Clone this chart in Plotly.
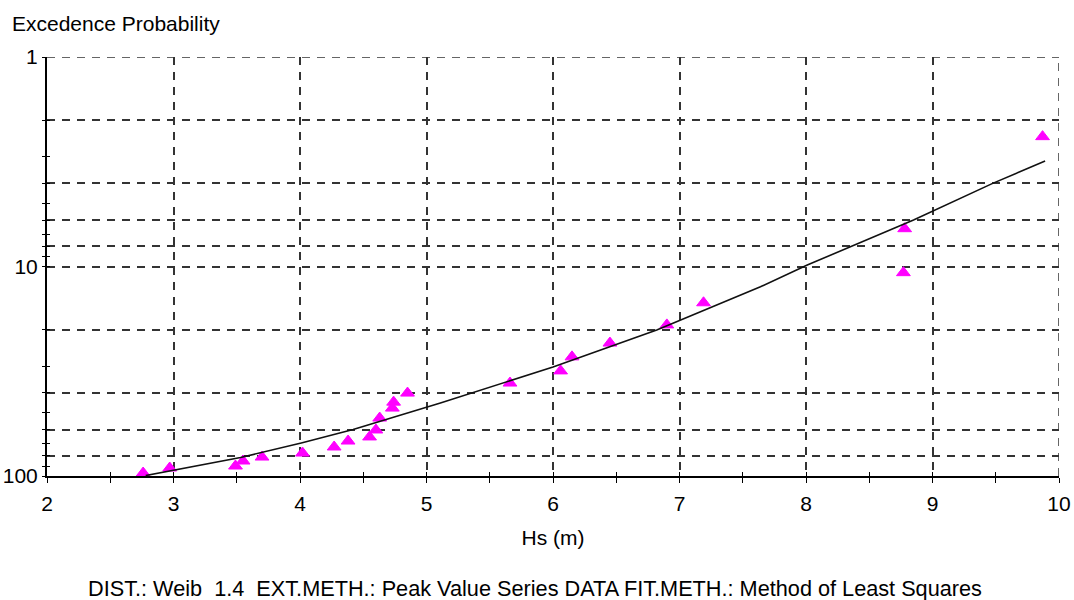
import plotly.graph_objects as go

# Observed data (Hs in m, exceedance value)
hs_obs = [2.76, 2.97, 3.49, 3.55, 3.70, 4.02, 4.27, 4.38, 4.55, 4.60, 4.63,
          4.73, 4.74, 4.85, 5.66, 6.06, 6.15, 6.45, 6.90, 7.19, 8.77, 8.78, 9.87]
p_obs = [96.8, 91.6, 89.6, 84.8, 81.2, 77.7, 72.7, 68.1, 65.1, 60.3, 52.9,
         47.4, 44.4, 40.2, 36.0, 31.5, 27.0, 23.2, 19.0, 14.9, 10.7, 6.6, 2.4]

# Fitted Weibull curve
hs_fit = [2.78, 3.53, 4.01, 4.42, 5.11, 6.00, 6.82, 7.64, 8.01, 8.85, 9.48, 9.89]
p_fit = [99.5, 81.6, 69.6, 60.0, 44.8, 30.2, 20.1, 12.5, 9.84, 6.0, 4.0, 3.14]

# Axis ticks
x_ticks = [2, 3, 4, 5, 6, 7, 8, 9, 10]
x_minor = [2.5, 3.5, 4.5, 5.5, 6.5, 7.5, 8.5, 9.5]
y_grid = [1, 2, 4, 6, 8, 10, 20, 40, 60, 80, 100]
y_grid_text = ["1", "", "", "", "", "10", "", "", "", "", "100"]
y_minor = [3, 5, 7, 9, 30, 50, 70, 90]
y_all = [1, 2, 3, 4, 5, 6, 7, 8, 9, 10, 20, 30, 40, 50, 60, 70, 80, 90, 100]

FONT = "Liberation Sans"
FS = 21
GRID = "#333333"
DASH = "8px,7px"

fig = go.Figure()
fig.add_trace(go.Scatter(
    x=hs_obs, y=p_obs, mode="markers",
    marker=dict(symbol="triangle-up", size=12, color="#FF00FF",
                line=dict(color="#FF00FF", width=1)),
    xaxis="x", yaxis="y", showlegend=False, hoverinfo="skip"))
fig.add_trace(go.Scatter(
    x=hs_fit, y=p_fit, mode="lines", line=dict(color="#111111", width=1.6),
    xaxis="x2", yaxis="y2", showlegend=False, hoverinfo="skip"))

fig.update_layout(
    width=1074, height=600,
    margin=dict(l=47, r=15, t=57, b=124, autoexpand=False),
    paper_bgcolor="white", plot_bgcolor="white",
    font=dict(family=FONT, size=FS, color="black"),
    title=dict(text="Excedence Probability", x=12 / 1074, xanchor="left",
               xref="container", y=1 - 24 / 600, yanchor="middle",
               yref="container", font=dict(family=FONT, size=FS, color="black")),
    xaxis=dict(
        range=[2, 10], tickmode="array", tickvals=x_ticks,
        ticktext=[str(v) for v in x_ticks], automargin=False,
        ticks="outside", ticklen=5, tickwidth=1.2, tickcolor="black",
        ticklabelstandoff=3,
        showline=True, linecolor="black", linewidth=2,
        showgrid=True, gridcolor=GRID, gridwidth=1.5, griddash=DASH,
        zeroline=False,
        minor=dict(tickmode="array", tickvals=x_minor, ticks="outside",
                   ticklen=5, tickwidth=1.2, tickcolor="black", showgrid=False),
        title=dict(text="Hs (m)", standoff=16, font=dict(size=FS)),
        tickfont=dict(size=FS),
    ),
    yaxis=dict(
        type="log", range=[2, 0], tickmode="array", tickvals=y_grid,
        ticktext=y_grid_text, automargin=False,
        ticks="outside", ticklen=3, tickwidth=1.2, tickcolor="black",
        showline=True, linecolor="black", linewidth=2,
        showgrid=True, gridcolor=GRID, gridwidth=1.5, griddash=DASH,
        zeroline=False,
        minor=dict(tickmode="array", tickvals=y_minor, ticks="outside",
                   ticklen=3, tickwidth=1.2, tickcolor="black", showgrid=False),
        tickfont=dict(size=FS),
    ),
    xaxis2=dict(
        overlaying="x", anchor="y", range=[2, 10], tickmode="array",
        tickvals=x_ticks + x_minor, ticks="inside", ticklen=4, tickwidth=1.2,
        tickcolor="black", showticklabels=False, showgrid=False,
        showline=False, zeroline=False, side="bottom", automargin=False,
    ),
    yaxis2=dict(
        overlaying="y", anchor="x", type="log", range=[2, 0], tickmode="array",
        tickvals=y_all, ticks="inside", ticklen=3, tickwidth=1.2,
        tickcolor="black", showticklabels=False, showgrid=False,
        showline=False, zeroline=False, side="left", automargin=False,
    ),
)

# Edge gridlines (top y=1 and right x=10) that plotly omits at range edges
fig.add_shape(type="line", xref="x domain", yref="y", x0=0, x1=1,
              y0=y_grid[0], y1=y_grid[0], layer="below",
              line=dict(color=GRID, width=1.5, dash=DASH))
fig.add_shape(type="line", xref="x", yref="y domain", x0=x_ticks[-1],
              x1=x_ticks[-1], y0=0, y1=1, layer="below",
              line=dict(color=GRID, width=1.5, dash=DASH))

fig.add_annotation(
    text="DIST.: Weib\u00a0\u00a01.4\u00a0\u00a0EXT.METH.: Peak Value Series DATA FIT.METH.: Method of Least Squares",
    xref="paper", yref="paper", x=(535 - 47) / 1012, y=(476 - 588) / 419,
    xanchor="center", yanchor="middle", showarrow=False,
    font=dict(family=FONT, size=21.7, color="black"))

fig.write_html("out.html")
